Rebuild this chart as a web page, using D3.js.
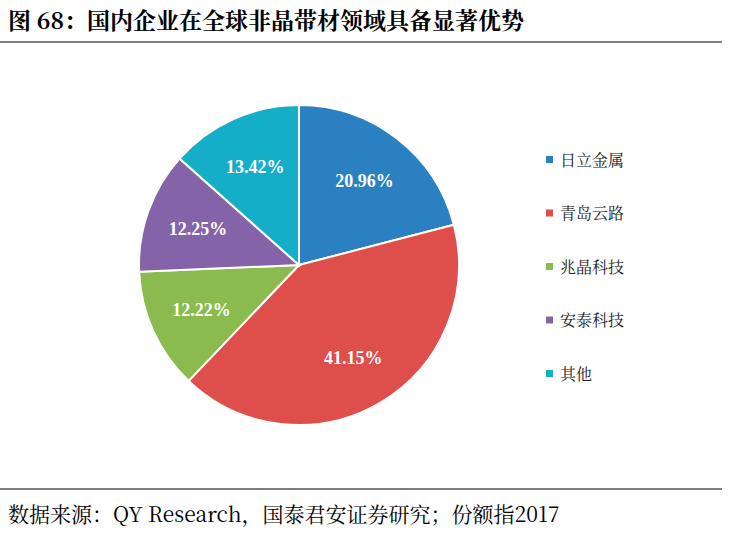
<!DOCTYPE html><html><head><meta charset="utf-8"><script src="https://d3js.org/d3.v7.min.js"></script>
<style>body{margin:0;background:#fff}</style></head><body><svg id="c" width="734" height="543"></svg>
<script>
const categories=["日立金属","青岛云路","兆晶科技","安泰科技","其他"];
const values=[20.96,41.15,12.22,12.25,13.42];
const colors=["#2a80c0","#de4f4c","#8bbb4f","#8463a8","#14aec8"];
const svg=d3.select("#c");
const serif="'Noto Serif CJK SC','Noto Sans CJK SC',serif";
svg.append("text").attr("x",8).attr("y",29).attr("font-family",serif).attr("font-weight","bold").attr("font-size",23).attr("fill","#000").text("图 68：国内企业在全球非晶带材领域具备显著优势");
svg.append("line").attr("x1",0).attr("x2",722).attr("y1",42).attr("y2",42).attr("stroke","#000").attr("stroke-width",1.2);
svg.append("line").attr("x1",0).attr("x2",722).attr("y1",489).attr("y2",489).attr("stroke","#000").attr("stroke-width",1.2);
svg.append("text").attr("x",8).attr("y",522).attr("font-family",serif).attr("font-size",21).attr("fill","#000").text("数据来源：QY Research，国泰君安证券研究；份额指2017");
const data=categories.map((c,i)=>({c,v:values[i]}));
const pie=d3.pie().value(d=>d.v).sort(null);
const r=160;
const arc=d3.arc().innerRadius(0).outerRadius(r);
const lab=d3.arc().innerRadius(r*0.67).outerRadius(r*0.67);
const g=svg.append("g").attr("transform","translate(299,265)");
const arcs=pie(data);
g.selectAll("path").data(arcs).join("path").attr("d",arc).attr("fill",(d,i)=>colors[i]).attr("stroke","#fff").attr("stroke-width",2);
g.selectAll("text").data(arcs).join("text").attr("transform",d=>`translate(${lab.centroid(d)})`).attr("text-anchor","middle").attr("dy","0.35em").attr("fill","#fff").attr("font-weight","bold").attr("font-size",18).attr("font-family","'Liberation Serif',serif").text(d=>d.data.v.toFixed(2)+"%");
const lg=svg.append("g").attr("transform","translate(546,160)");
categories.forEach((c,i)=>{
 lg.append("rect").attr("x",0).attr("y",i*53.5-4).attr("width",7).attr("height",7).attr("fill",colors[i]);
 lg.append("text").attr("x",14).attr("y",i*53.5).attr("dy","0.35em").attr("font-family",serif).attr("font-size",16).attr("fill","#222").text(c);
});
</script></body></html>
